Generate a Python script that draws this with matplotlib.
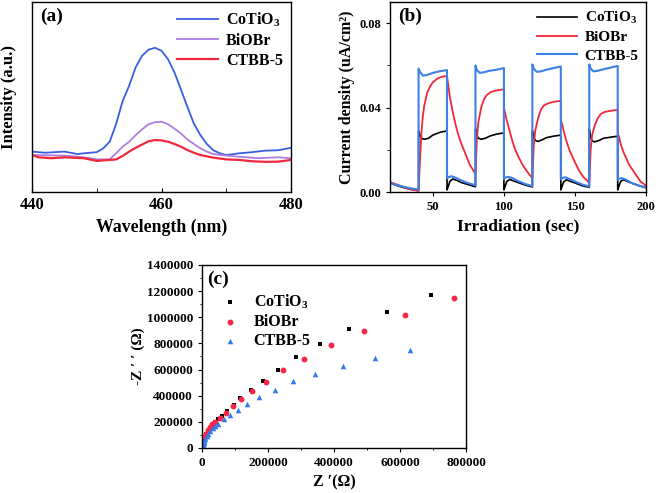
import numpy as np
import matplotlib
matplotlib.use("Agg")
import matplotlib.pyplot as plt
from matplotlib.ticker import MultipleLocator, FormatStrFormatter

plt.rcParams['font.family'] = ['Liberation Serif', 'DejaVu Serif']
plt.rcParams['font.weight'] = 'bold'
plt.rcParams['mathtext.fontset'] = 'custom'
plt.rcParams['mathtext.bf'] = 'Liberation Serif:bold'
plt.rcParams['mathtext.rm'] = 'Liberation Serif:bold'
plt.rcParams['mathtext.default'] = 'bf'
plt.rcParams['axes.linewidth'] = 1.0

names = ['CoTiO$_3$', 'BiOBr', 'CTBB-5']

# ---- (a) PL spectra ----
wl_co = [440, 442, 445, 447, 448, 450, 451, 452, 453, 454, 455, 456, 457, 458, 459, 460,
         461, 462, 463, 464, 465, 466, 467, 468, 469, 470, 472, 474, 476, 478, 480]
pl_co = [21.3, 20.7, 21.3, 20.0, 20.4, 21.0, 23.0, 26.5, 36.0, 48.0, 56.0, 65.7, 71.8, 75.0, 76.0, 74.4,
         70.0, 63.0, 54.0, 44.8, 36.0, 30.0, 25.3, 22.0, 20.4, 19.5, 20.4, 21.0, 21.8, 22.0, 23.3]
wl_bi = [440, 445, 448, 450, 452, 453, 454, 455, 456, 457, 458, 459, 460, 461, 462, 463,
         464, 465, 466, 467, 468, 470, 472, 475, 478, 480]
pl_bi = [19.5, 19.2, 18.3, 17.2, 17.2, 20.5, 23.9, 26.5, 30.0, 33.0, 35.7, 36.8, 37.0, 35.7, 33.4, 30.8,
         27.7, 25.3, 23.0, 21.3, 20.0, 19.2, 18.6, 17.8, 18.3, 17.8]
wl_ct = [440, 441, 443, 445, 448, 450, 452, 453, 454, 455, 456, 457, 458, 459, 460, 461,
         462, 463, 464, 465, 466, 468, 470, 472, 474, 476, 478, 480]
pl_ct = [19.5, 18.3, 17.8, 18.3, 17.8, 16.4, 16.9, 17.2, 19.0, 21.3, 23.3, 25.0, 26.7, 27.4, 27.2, 26.5,
         25.3, 23.9, 22.1, 20.7, 19.5, 18.1, 17.2, 16.9, 16.2, 15.9, 16.0, 16.9]

# ---- (b) photocurrent ----
t_co = [20, 25, 30, 35, 40, 40.01, 41, 42, 44, 47, 50, 55, 60, 60.01, 61, 62, 64, 67, 70, 75, 80,
        80.01, 81, 82, 84, 87, 90, 95, 100, 100.01, 101, 102, 104, 107, 110, 115, 120,
        120.01, 121, 122, 124, 127, 130, 135, 140, 140.01, 141, 142, 144, 147, 150, 155, 160,
        160.01, 161, 162, 164, 167, 170, 175, 180, 180.01, 181, 182, 184, 187, 190, 195, 200]
j_co = [0.0043, 0.003, 0.002, 0.0012, 0.0008, 0.029, 0.027, 0.0255, 0.025, 0.0255, 0.027, 0.0283, 0.029,
        0.001, 0.003, 0.005, 0.0062, 0.0055, 0.0045, 0.0035, 0.0025,
        0.030, 0.027, 0.0255, 0.025, 0.0255, 0.0265, 0.0275, 0.028, 0.001, 0.003, 0.005, 0.006, 0.0052,
        0.0045, 0.0033, 0.0024,
        0.029, 0.026, 0.0245, 0.024, 0.0248, 0.0258, 0.0265, 0.027, 0.001, 0.003, 0.0048, 0.0058, 0.005,
        0.0043, 0.003, 0.0022,
        0.030, 0.026, 0.0242, 0.0238, 0.0245, 0.0255, 0.026, 0.0265, 0.001, 0.003, 0.005, 0.0058, 0.005,
        0.0042, 0.003, 0.002]
t_bi = [20, 25, 30, 35, 40, 41, 42, 43, 44, 46, 48, 50, 53, 56, 60, 61, 62, 64, 66, 68, 70, 73, 76, 80,
        81, 82, 84, 86, 88, 91, 95, 100, 100.01, 101, 102, 104, 106, 108, 110, 113, 116, 120,
        121, 122, 124, 126, 128, 131, 135, 140, 140.01, 141, 142, 144, 146, 148, 150, 153, 156, 160,
        161, 162, 164, 166, 168, 171, 175, 180, 180.01, 181, 182, 184, 186, 188, 190, 193, 196, 200]
j_bi = [0.0047, 0.0035, 0.0022, 0.0012, 0.0005, 0.015, 0.028, 0.036, 0.041, 0.047, 0.050, 0.052, 0.0537,
        0.0546, 0.055, 0.050, 0.045, 0.038, 0.032, 0.027, 0.023, 0.018, 0.013, 0.0085,
        0.025, 0.033, 0.040, 0.044, 0.046, 0.0475, 0.0482, 0.0487, 0.040, 0.037, 0.034, 0.029, 0.024,
        0.020, 0.017, 0.013, 0.010, 0.0065,
        0.022, 0.029, 0.035, 0.039, 0.041, 0.042, 0.0428, 0.0432, 0.034, 0.032, 0.029, 0.024, 0.020,
        0.017, 0.014, 0.010, 0.007, 0.0045,
        0.020, 0.027, 0.032, 0.035, 0.037, 0.038, 0.0385, 0.039, 0.028, 0.026, 0.023, 0.019, 0.016,
        0.013, 0.011, 0.008, 0.005, 0.003]
t_ct = [20, 25, 30, 35, 40, 40.01, 41, 43, 46, 50, 55, 60, 60.01, 61, 63, 66, 70, 75, 80,
        80.01, 81, 83, 86, 90, 95, 100, 100.01, 101, 103, 106, 110, 115, 120,
        120.01, 121, 123, 126, 130, 135, 140, 140.01, 141, 143, 146, 150, 155, 160,
        160.01, 161, 163, 166, 170, 175, 180, 180.01, 181, 183, 186, 190, 195, 200]
j_ct = [0.0043, 0.0032, 0.0024, 0.0017, 0.0012, 0.0585, 0.057, 0.0552, 0.0555, 0.0565, 0.0573, 0.0578,
        0.0065, 0.007, 0.0075, 0.0068, 0.0055, 0.0042, 0.0032,
        0.060, 0.0578, 0.0565, 0.0568, 0.0575, 0.058, 0.0588, 0.0062, 0.0068, 0.0072, 0.0066, 0.0052,
        0.0038, 0.0028,
        0.0605, 0.0585, 0.057, 0.0572, 0.058, 0.0588, 0.0595, 0.006, 0.0066, 0.007, 0.0062, 0.005,
        0.0036, 0.0026,
        0.0605, 0.0585, 0.0572, 0.0575, 0.0582, 0.059, 0.0598, 0.0058, 0.0063, 0.0066, 0.0058, 0.0042,
        0.003, 0.0022]

# ---- (c) Nyquist ----
zr_co = [1e3, 2e3, 4e3, 6e3, 9e3, 13e3, 18e3, 24e3, 31e3, 39e3, 48e3, 60e3, 76e3, 96e3, 116e3,
         148e3, 185e3, 230e3, 286e3, 357e3, 447e3, 560e3, 694e3]
zi_co = [15e3, 30e3, 50e3, 65e3, 85e3, 105e3, 125e3, 150e3, 175e3, 200e3, 225e3, 245e3, 281e3, 327e3,
         386e3, 447e3, 516e3, 600e3, 694e3, 798e3, 913e3, 1038e3, 1170e3]
zr_bi = [1e3, 2e3, 4e3, 6e3, 9e3, 13e3, 18e3, 24e3, 31e3, 40e3, 56e3, 73e3, 93e3, 118e3, 151e3,
         193e3, 245e3, 309e3, 391e3, 492e3, 615e3, 764e3]
zi_bi = [15e3, 30e3, 52e3, 70e3, 90e3, 110e3, 135e3, 160e3, 180e3, 197e3, 230e3, 268e3, 319e3, 373e3,
         434e3, 508e3, 594e3, 683e3, 786e3, 895e3, 1017e3, 1147e3]
zr_ct = [1e3, 2e3, 3e3, 5e3, 7e3, 10e3, 14e3, 19e3, 25e3, 32e3, 40e3, 50e3, 66e3, 84e3, 108e3,
         136e3, 173e3, 220e3, 276e3, 343e3, 426e3, 523e3, 631e3]
zi_ct = [10e3, 20e3, 30e3, 40e3, 55e3, 70e3, 90e3, 110e3, 130e3, 150e3, 170e3, 187e3, 220e3, 255e3,
         294e3, 340e3, 393e3, 445e3, 510e3, 568e3, 630e3, 691e3, 750e3]

fig = plt.figure(figsize=(6.59, 4.93), dpi=100)

# panel (a)
ax1 = fig.add_axes([0.0486, 0.6105, 0.393, 0.385])
ax1.plot(wl_co, pl_co, color='#3a5ee0', lw=1.3, label=names[0])
ax1.plot(wl_bi, pl_bi, color='#b07ce0', lw=1.3, label=names[1])
ax1.plot(wl_ct, pl_ct, color='#f0283c', lw=1.6, label=names[2])
ax1.set_xlim(440, 480)
ax1.set_ylim(0, 100)
ax1.set_yticks([])
ax1.set_xticks([440, 460, 480])
ax1.xaxis.set_minor_locator(MultipleLocator(10))
ax1.tick_params(axis='x', which='both', direction='in', labelsize=12, length=3)
ax1.set_xlabel('Wavelength (nm)', fontsize=12.8, fontweight='bold', labelpad=4)
ax1.set_ylabel('Intensity (a.u.)', fontsize=12, fontweight='bold', labelpad=11)
ax1.text(0.03, 0.97, '(a)', transform=ax1.transAxes, fontsize=14, fontweight='bold', va='top')
ax1.legend(loc='upper right', frameon=False, fontsize=11.5, handlelength=2.6,
           borderaxespad=0.1, labelspacing=0.25, handletextpad=0.5)

# panel (b)
ax2 = fig.add_axes([0.592, 0.6105, 0.3885, 0.385])
ax2.plot(t_co, j_co, color='black', lw=1.2, label=names[0])
ax2.plot(t_bi, j_bi, color='#f0283c', lw=1.3, label=names[1])
ax2.plot(t_ct, j_ct, color='#3c80e8', lw=1.5, label=names[2])
ax2.set_xlim(20, 200)
ax2.set_ylim(0, 0.09)
ax2.set_yticks([0.0, 0.04, 0.08])
ax2.set_yticklabels(['0.00', '0.04', '0.08'])
ax2.set_xticks([50, 100, 150, 200])
ax2.yaxis.set_minor_locator(MultipleLocator(0.02))
ax2.tick_params(which='both', direction='out', labelsize=9, length=3)
ax2.tick_params(which='minor', length=2)
ax2.set_xlabel('Irradiation (sec)', fontsize=12.6, fontweight='bold', labelpad=4)
ax2.set_ylabel('Current density (uA/cm²)', fontsize=11.5, fontweight='bold', labelpad=3)
ax2.text(0.03, 0.97, '(b)', transform=ax2.transAxes, fontsize=14, fontweight='bold', va='top')
ax2.legend(loc='upper right', frameon=False, fontsize=11, handlelength=2.6,
           borderaxespad=0.1, labelspacing=0.3, handletextpad=0.5)

# panel (c)
ax3 = fig.add_axes([0.3065, 0.0913, 0.4006, 0.3712])
ax3.scatter(zr_co, zi_co, marker='s', s=12, color='black', lw=0, label=names[0])
ax3.scatter(zr_bi, zi_bi, marker='o', s=18, color='#f5284a', lw=0, label=names[1])
ax3.scatter(zr_ct, zi_ct, marker='^', s=16, color='#2f78ee', lw=0, label=names[2])
ax3.set_xlim(0, 800000)
ax3.set_ylim(0, 1400000)
ax3.set_xticks(range(0, 800001, 200000))
ax3.set_yticks(range(0, 1400001, 200000))
ax3.xaxis.set_major_formatter(FormatStrFormatter('%d'))
ax3.yaxis.set_major_formatter(FormatStrFormatter('%d'))
ax3.xaxis.set_minor_locator(MultipleLocator(100000))
ax3.yaxis.set_minor_locator(MultipleLocator(100000))
ax3.tick_params(which='both', direction='out', labelsize=9.5, length=3)
ax3.tick_params(which='minor', length=1.5)
ax3.set_xlabel('Z \u2032(\u03a9)', fontsize=11.5, fontweight='bold', labelpad=4)
ax3.set_ylabel('-Z \u2032 \u2032 (\u03a9)', fontsize=11, fontweight='bold', labelpad=1)
ax3.text(0.02, 0.97, '(c)', transform=ax3.transAxes, fontsize=14, fontweight='bold', va='top')
ax3.legend(loc='upper left', bbox_to_anchor=(0.02, 0.885), frameon=False, fontsize=11.5,
           handletextpad=0.5, labelspacing=0.2, borderaxespad=0.0)

fig.savefig('out.png', dpi=100)
